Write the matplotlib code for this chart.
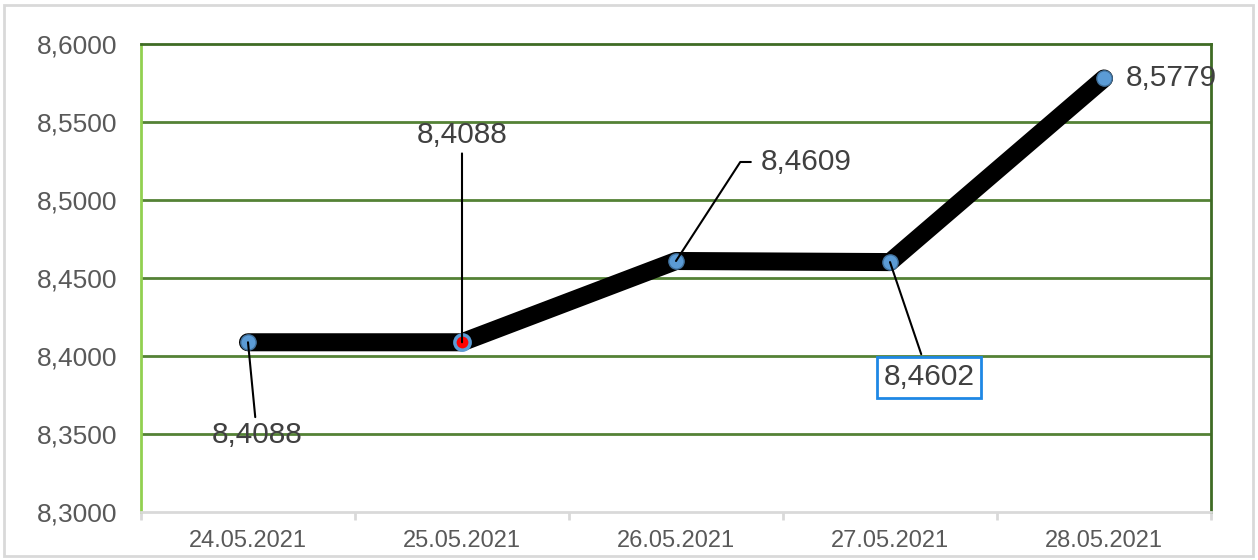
import matplotlib.pyplot as plt
from matplotlib.patches import Rectangle

plt.rcParams['font.family'] = ['Liberation Sans', 'DejaVu Sans']

dates = ['24.05.2021', '25.05.2021', '26.05.2021', '27.05.2021', '28.05.2021']
rates = [8.4088, 8.4088, 8.4609, 8.4602, 8.5779]
y_ticks = [8.30, 8.35, 8.40, 8.45, 8.50, 8.55, 8.60]

label_offsets = [(9, -93), (0, 207), (130, 99), (39, -115), (22, 0)]

fig = plt.figure(figsize=(12.58, 5.60), dpi=100)
ax = fig.add_axes([141 / 1258, 1 - 512 / 560, 1070 / 1258, 468 / 560])

# outer frame
fig.patches.append(Rectangle((4 / 1258, 4 / 560), 1249 / 1258, 551 / 560, transform=fig.transFigure,
                             fill=False, edgecolor='#d9d9d9', lw=2))

x = list(range(len(dates)))
ax.plot(x, rates, color='black', lw=13, solid_capstyle='round', solid_joinstyle='round', zorder=3)
ax.plot(x, rates, 'o', ms=11, mfc='#5b9bd5', mec='#41719c', mew=1, zorder=4)
ax.plot(x[1], rates[1], 'o', ms=11, mfc='#ff0000', mec='#5b9bd5', mew=2.5, zorder=5)

ax.set_xlim(-0.5, 4.5)
ax.set_ylim(8.3, 8.6)
ax.set_yticks(y_ticks)
ax.set_yticklabels([f'{v:.4f}'.replace('.', ',') for v in y_ticks])
ax.set_xticks(x)
ax.set_xticklabels(dates)
ax.set_xticks([i - 0.5 for i in range(len(dates) + 1)], minor=True)

for v in y_ticks[1:-1]:
    ax.axhline(v, color='#548235', lw=2, zorder=1)

ax.spines['top'].set_color('#3f6b25')
ax.spines['top'].set_linewidth(2)
ax.spines['right'].set_color('#3f6b25')
ax.spines['right'].set_linewidth(2)
ax.spines['left'].set_color('#92d050')
ax.spines['left'].set_linewidth(2)
ax.spines['bottom'].set_color('#d9d9d9')
ax.spines['bottom'].set_linewidth(2)

ax.tick_params(axis='y', length=0, pad=17, labelsize=19, labelcolor='#595959')
ax.tick_params(axis='x', which='major', length=0, pad=13, labelsize=17, labelcolor='#595959')
ax.tick_params(axis='x', which='minor', length=6, width=2, color='#d9d9d9')

lbl = lambda v: f'{v:.4f}'.replace('.', ',')
arrow = dict(arrowstyle='-', color='black', lw=1.5, shrinkA=1, shrinkB=0)

ax.annotate(lbl(rates[0]), (x[0], rates[0]), xytext=label_offsets[0], textcoords='offset pixels',
            ha='center', va='center', fontsize=21.5, color='#404040', arrowprops=arrow, zorder=6)
ax.annotate(lbl(rates[1]), (x[1], rates[1]), xytext=label_offsets[1], textcoords='offset pixels',
            ha='center', va='center', fontsize=21.5, color='#404040', arrowprops=arrow, zorder=6)
ax.annotate(lbl(rates[2]), (x[2], rates[2]), xytext=label_offsets[2], textcoords='offset pixels',
            ha='center', va='center', fontsize=21.5, color='#404040', zorder=6,
            arrowprops=dict(arrow, connectionstyle='angle,angleA=0,angleB=57,rad=0', shrinkA=5))
ax.annotate(lbl(rates[3]), (x[3], rates[3]), xytext=label_offsets[3], textcoords='offset pixels',
            ha='center', va='center', fontsize=21.5, color='#404040', arrowprops=arrow, zorder=6,
            bbox=dict(boxstyle='square,pad=0.22', fc='white', ec='#1e88e5', lw=2))
ax.annotate(lbl(rates[4]), (x[4], rates[4]), xytext=label_offsets[4], textcoords='offset pixels',
            ha='left', va='center', fontsize=21.5, color='#404040', zorder=6)

plt.savefig('out.png', dpi=100)
